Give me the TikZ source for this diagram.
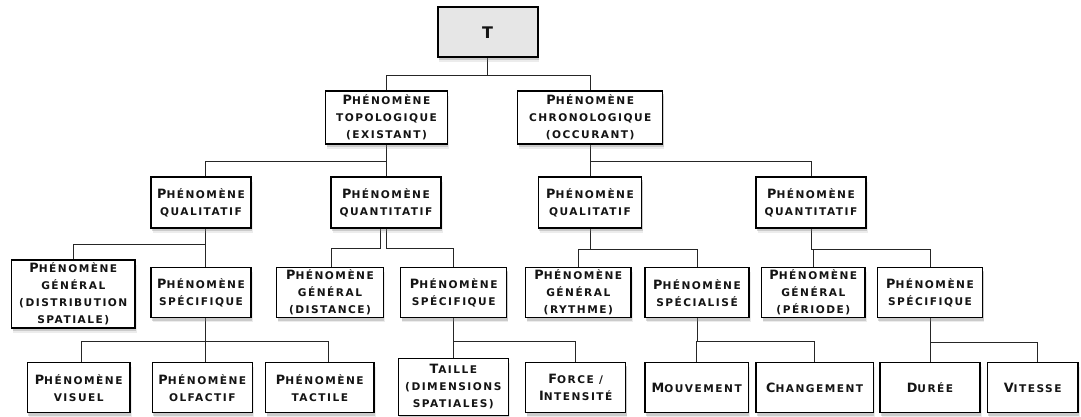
\documentclass[tikz,border=0pt]{standalone}
\usepackage{fontspec}
\newfontfamily\cpfont{DejaVu Sans}[LetterSpace=14]
\usetikzlibrary{shadows,backgrounds}
\newcommand\CL[1]{{\fontsize{12.8}{17}\selectfont #1}}
\definecolor{txt}{HTML}{141414}
\definecolor{tgray}{HTML}{E6E6E6}
\begin{document}
\begin{tikzpicture}[x=1pt,y=-1pt,
  nbox/.style={draw=black, line width=1.15pt, fill=white, align=center, inner sep=0pt,
    text=txt, font=\cpfont\bfseries\fontsize{10.6}{17}\selectfont,
    drop shadow={shadow xshift=1.6pt, shadow yshift=-4.5pt, opacity=.15},
    drop shadow={shadow xshift=1pt, shadow yshift=-2.8pt, opacity=.3}},
  conn/.style={draw=black!85, line width=0.9pt},
]
\useasboundingbox (0,0) rectangle (1081,416);
% level 0
\node[nbox, fill=tgray, line width=2pt, minimum width=100pt, minimum height=50pt,
  font=\cpfont\bfseries\fontsize{16}{17}\selectfont] (T) at (487.7,32.3) {T};
% level 1
\node[nbox, minimum width=121.6pt, minimum height=53pt] (topo) at (386.5,117.5)
  {\CL{P}HÉNOMÈNE\\TOPOLOGIQUE\\(EXISTANT)};
\node[nbox, minimum width=145pt, minimum height=53pt] (chrono) at (590.2,117.5)
  {\CL{P}HÉNOMÈNE\\CHRONOLOGIQUE\\(OCCURANT)};
% level 2
\node[nbox, minimum width=100pt, minimum height=51pt] (qlL) at (201,202.5)
  {\CL{P}HÉNOMÈNE\\QUALITATIF};
\node[nbox, minimum width=110pt, minimum height=51pt] (qnL) at (386,202.5)
  {\CL{P}HÉNOMÈNE\\QUANTITATIF};
\node[nbox, minimum width=103.4pt, minimum height=51pt] (qlR) at (590,202.5)
  {\CL{P}HÉNOMÈNE\\QUALITATIF};
\node[nbox, minimum width=110pt, minimum height=51pt] (qnR) at (811,202.5)
  {\CL{P}HÉNOMÈNE\\QUANTITATIF};
% level 3
\node[nbox, minimum width=123.3pt, minimum height=68pt] (distr) at (73.3,294)
  {\CL{P}HÉNOMÈNE\\GÉNÉRAL\\(DISTRIBUTION\\SPATIALE)};
\node[nbox, minimum width=100pt, minimum height=50pt] (specL) at (201,292.7)
  {\CL{P}HÉNOMÈNE\\SPÉCIFIQUE};
\node[nbox, minimum width=106.6pt, minimum height=50pt] (dist) at (330,292.7)
  {\CL{P}HÉNOMÈNE\\GÉNÉRAL\\(DISTANCE)};
\node[nbox, minimum width=106pt, minimum height=50pt] (specQ) at (453.7,292.7)
  {\CL{P}HÉNOMÈNE\\SPÉCIFIQUE};
\node[nbox, minimum width=105.3pt, minimum height=50pt] (ryth) at (578.3,292.7)
  {\CL{P}HÉNOMÈNE\\GÉNÉRAL\\(RYTHME)};
\node[nbox, minimum width=104pt, minimum height=50pt] (spec2) at (697,292.7)
  {\CL{P}HÉNOMÈNE\\SPÉCIALISÉ};
\node[nbox, minimum width=103.3pt, minimum height=50pt] (per) at (813.3,292.7)
  {\CL{P}HÉNOMÈNE\\GÉNÉRAL\\(PÉRIODE)};
\node[nbox, minimum width=105.4pt, minimum height=50pt] (specR) at (930,292.7)
  {\CL{P}HÉNOMÈNE\\SPÉCIFIQUE};
% level 4
\node[nbox, minimum width=102.7pt, minimum height=50pt] (vis) at (78.7,387.7)
  {\CL{P}HÉNOMÈNE\\VISUEL};
\node[nbox, minimum width=100pt, minimum height=50pt] (olf) at (202.3,387.7)
  {\CL{P}HÉNOMÈNE\\OLFACTIF};
\node[nbox, minimum width=108.3pt, minimum height=50pt] (tac) at (319.8,387.7)
  {\CL{P}HÉNOMÈNE\\TACTILE};
\node[nbox, minimum width=110pt, minimum height=57pt] (taille) at (453.3,386.9)
  {\CL{T}AILLE\\(DIMENSIONS\\SPATIALES)};
\node[nbox, minimum width=100pt, minimum height=50pt] (force) at (575.7,387.7)
  {\CL{F}ORCE /\\\CL{I}NTENSITÉ};
\node[nbox, minimum width=103.3pt, minimum height=50pt] (mouv) at (696.7,387.7)
  {\CL{M}OUVEMENT};
\node[nbox, minimum width=117.3pt, minimum height=50pt] (chg) at (814.7,387.7)
  {\CL{C}HANGEMENT};
\node[nbox, minimum width=100pt, minimum height=50pt] (dur) at (930,387.7)
  {\CL{D}URÉE};
\node[nbox, minimum width=90.7pt, minimum height=50pt] (vit) at (1032.7,387.7)
  {\CL{V}ITESSE};
% connectors
\begin{scope}[on background layer]
\fill[white] (0,0) rectangle (1081,416);
\draw[conn] (T.south) -- ++(0,17) coordinate (bT) -| (topo.north);
\draw[conn] (bT) -| (chrono.north);
\draw[conn] (topo.south) -- ++(0,17) coordinate (bTo) -| ([xshift=4.7pt]qlL.north);
\draw[conn] (bTo) -| (qnL.north);
\draw[conn] (chrono.south) -- ++(0,16.5) coordinate (bCh) -| (qlR.north);
\draw[conn] (bCh) -| ([xshift=0.7pt]qnR.north);
\draw[conn] ([xshift=4.7pt]qlL.south) -- ++(0,16) coordinate (bQl) -| (distr.north);
\draw[conn] (bQl) -- ([xshift=4.7pt]specL.north);
\draw[conn] ([xshift=-6pt]qnL.south) -- ++(0,20.3) -| ([xshift=1pt]dist.north);
\draw[conn] ([xshift=0.7pt]qnL.south) -- ++(0,20.3) -| (specQ.north);
\draw[conn] (qlR.south) -- ++(0,21) coordinate (bQr) -| (ryth.north);
\draw[conn] (bQr) -| (spec2.north);
\draw[conn] ([xshift=0.7pt]qnR.south) -- ++(0,20.8) coordinate (bNr) -| (per.north);
\draw[conn] (bNr) -| (specR.north);
\draw[conn] ([xshift=4.7pt]specL.south) -- ++(0,23.3) coordinate (bSl) -| ([xshift=3pt]vis.north);
\draw[conn] (bSl) -- ([xshift=3.4pt]olf.north);
\draw[conn] (bSl) -| ([xshift=8.5pt]tac.north);
\draw[conn] (specQ.south) -- ++(0,23) coordinate (bSq) -| (taille.north);
\draw[conn] (bSq) -| (force.north);
\draw[conn] (spec2.south) -- ++(0,23.3) coordinate (bS2) -| (mouv.north);
\draw[conn] (bS2) -| (chg.north);
\draw[conn] (specR.south) -- ++(0,23.7) coordinate (bSr) -| (dur.north);
\draw[conn] (bSr) -| ([xshift=4.6pt]vit.north);
\end{scope}
\end{tikzpicture}
\end{document}
